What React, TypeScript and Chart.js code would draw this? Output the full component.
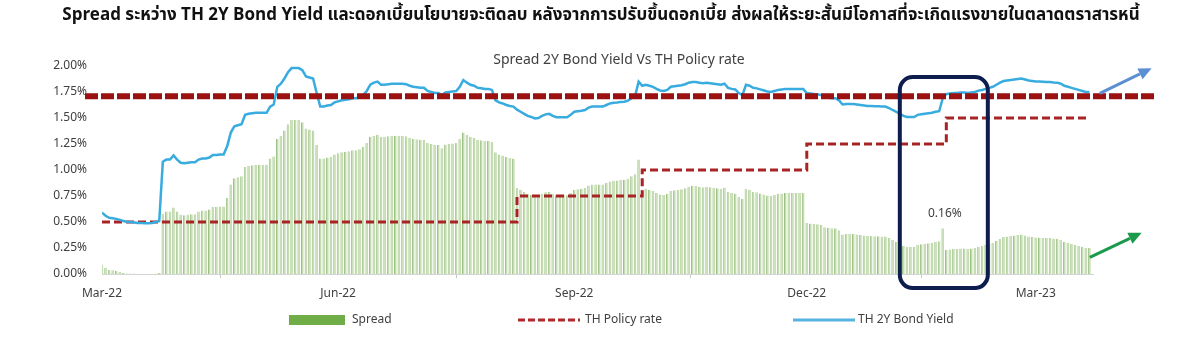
import React, { useEffect, useRef } from 'react';
import { Chart, registerables } from 'chart.js';

Chart.register(...registerables);

const headingText =
  'Spread ระหว่าง TH 2Y Bond Yield และดอกเบี้ยนโยบายจะติดลบ หลังจากการปรับขึ้นดอกเบี้ย ส่งผลให้ระยะสั้นมีโอกาสที่จะเกิดแรงขายในตลาดตราสารหนี้';
const chartTitle = 'Spread 2Y Bond Yield Vs TH Policy rate';

// business-day index -> TH 2Y bond yield (%)
const bondYield: number[] = [
  0.59, 0.56, 0.54, 0.535,
  0.53, 0.52, 0.51, 0.50, 0.50,
  0.495, 0.49, 0.49, 0.488, 0.487,
  0.49, 0.50, 0.51, 1.08, 1.10,
  1.10, 1.14, 1.10, 1.07, 1.065,
  1.07, 1.075, 1.075, 1.10, 1.11,
  1.11, 1.12, 1.145, 1.145, 1.15,
  1.15, 1.23, 1.36, 1.42, 1.43,
  1.44, 1.53, 1.54, 1.545, 1.55,
  1.55, 1.55, 1.55, 1.61, 1.63,
  1.80, 1.83, 1.88, 1.94, 1.98,
  1.98, 1.98, 1.96, 1.90, 1.89,
  1.88, 1.74, 1.61, 1.61, 1.62,
  1.625, 1.65, 1.66, 1.67, 1.675,
  1.68, 1.69, 1.69, 1.70, 1.72,
  1.76, 1.82, 1.84, 1.85, 1.82,
  1.82, 1.825, 1.83, 1.83, 1.83,
  1.83, 1.825, 1.81, 1.80, 1.795,
  1.79, 1.79, 1.76, 1.75, 1.74,
  1.74, 1.72, 1.745, 1.75, 1.755,
  1.76, 1.80, 1.865, 1.84, 1.82,
  1.81, 1.79, 1.785, 1.78, 1.78,
  1.77, 1.67, 1.65, 1.64, 1.625,
  1.615, 1.61, 1.58, 1.56, 1.54,
  1.52, 1.51, 1.495, 1.50, 1.52,
  1.535, 1.54, 1.52, 1.507, 1.507,
  1.507, 1.507, 1.53, 1.56, 1.565,
  1.57, 1.577, 1.60, 1.61, 1.61,
  1.61, 1.61, 1.625, 1.64, 1.647,
  1.65, 1.655, 1.657, 1.667, 1.69,
  1.71, 1.85, 1.81, 1.82, 1.81,
  1.80, 1.78, 1.765, 1.76, 1.77,
  1.80, 1.805, 1.81, 1.815, 1.825,
  1.84, 1.845, 1.845, 1.84, 1.835,
  1.84, 1.835, 1.83, 1.825, 1.82,
  1.83, 1.79, 1.78, 1.775, 1.74,
  1.72, 1.82, 1.81, 1.79, 1.785,
  1.775, 1.765, 1.755, 1.75, 1.76,
  1.77, 1.775, 1.78, 1.78, 1.78,
  1.78, 1.78, 1.78, 1.74, 1.735,
  1.73, 1.728, 1.72, 1.70, 1.695,
  1.69, 1.69, 1.67, 1.63, 1.635,
  1.635, 1.635, 1.63, 1.625, 1.62,
  1.615, 1.615, 1.613, 1.612, 1.61,
  1.61, 1.595, 1.577, 1.56, 1.54,
  1.52, 1.51, 1.51, 1.51, 1.53,
  1.535, 1.54, 1.545, 1.55, 1.56,
  1.565, 1.69, 1.73, 1.735, 1.74,
  1.74, 1.745, 1.745, 1.74, 1.745,
  1.75, 1.763, 1.77, 1.78, 1.79,
  1.80, 1.82, 1.84, 1.855, 1.86,
  1.865, 1.87, 1.875, 1.88, 1.87,
  1.86, 1.855, 1.85, 1.85, 1.848,
  1.845, 1.845, 1.842, 1.84, 1.83,
  1.81, 1.80, 1.79, 1.78, 1.77,
  1.76, 1.75, 1.75,
];

// business-day index -> spread (%)
const spreadValues: number[] = [
  0.09, 0.06, 0.04, 0.035,
  0.03, 0.02, 0.01, 0.005, 0.005,
  0.004, 0.003, 0.003, 0.002, 0.002,
  0.003, 0.004, 0.01, 0.58, 0.60,
  0.60, 0.64, 0.60, 0.57, 0.565,
  0.57, 0.575, 0.575, 0.60, 0.61,
  0.61, 0.62, 0.645, 0.645, 0.65,
  0.65, 0.73, 0.86, 0.92, 0.93,
  0.94, 1.03, 1.04, 1.045, 1.05,
  1.05, 1.05, 1.05, 1.11, 1.13,
  1.30, 1.33, 1.38, 1.44, 1.48,
  1.48, 1.48, 1.46, 1.40, 1.39,
  1.38, 1.24, 1.11, 1.11, 1.12,
  1.125, 1.15, 1.16, 1.17, 1.175,
  1.18, 1.19, 1.19, 1.20, 1.22,
  1.26, 1.32, 1.33, 1.34, 1.32,
  1.32, 1.325, 1.33, 1.33, 1.33,
  1.33, 1.325, 1.31, 1.30, 1.295,
  1.29, 1.29, 1.26, 1.25, 1.24,
  1.24, 1.21, 1.245, 1.25, 1.255,
  1.26, 1.30, 1.36, 1.34, 1.32,
  1.31, 1.29, 1.285, 1.28, 1.28,
  1.27, 1.17, 1.15, 1.14, 1.125,
  1.115, 1.11, 0.83, 0.81, 0.79,
  0.77, 0.76, 0.745, 0.75, 0.77,
  0.785, 0.79, 0.77, 0.757, 0.757,
  0.757, 0.757, 0.78, 0.81, 0.815,
  0.82, 0.827, 0.85, 0.86, 0.86,
  0.86, 0.86, 0.875, 0.89, 0.897,
  0.90, 0.905, 0.907, 0.917, 0.94,
  0.96, 1.10, 0.81, 0.82, 0.81,
  0.80, 0.78, 0.765, 0.76, 0.77,
  0.80, 0.805, 0.81, 0.815, 0.825,
  0.84, 0.845, 0.845, 0.84, 0.835,
  0.84, 0.835, 0.83, 0.825, 0.82,
  0.83, 0.79, 0.78, 0.775, 0.74,
  0.72, 0.82, 0.81, 0.79, 0.785,
  0.775, 0.765, 0.755, 0.75, 0.76,
  0.77, 0.775, 0.78, 0.78, 0.78,
  0.78, 0.78, 0.78, 0.49, 0.485,
  0.48, 0.478, 0.47, 0.45, 0.445,
  0.44, 0.44, 0.42, 0.38, 0.385,
  0.385, 0.385, 0.38, 0.375, 0.37,
  0.365, 0.365, 0.363, 0.362, 0.36,
  0.36, 0.345, 0.327, 0.31, 0.29,
  0.27, 0.26, 0.26, 0.26, 0.28,
  0.285, 0.29, 0.295, 0.30, 0.31,
  0.315, 0.44, 0.23, 0.235, 0.24,
  0.24, 0.245, 0.245, 0.24, 0.245,
  0.25, 0.263, 0.27, 0.28, 0.29,
  0.30, 0.32, 0.34, 0.355, 0.36,
  0.365, 0.37, 0.375, 0.38, 0.37,
  0.36, 0.355, 0.35, 0.35, 0.348,
  0.345, 0.345, 0.342, 0.34, 0.33,
  0.31, 0.30, 0.29, 0.28, 0.27,
  0.26, 0.25, 0.25,
];

// policy rate change points (business-day index) and levels
const policyIndex: number[] = [0, 116, 151, 197, 236, 276];
const policyRate: number[] = [0.5, 0.75, 1.0, 1.25, 1.5, 1.5];

const xTickIndex: number[] = [0, 66, 132, 197, 261];
const xTickLabels: string[] = ['Mar-22', 'Jun-22', 'Sep-22', 'Dec-22', 'Mar-23'];
const xMax = 277;
const yMax = 2.0;
const yStep = 0.25;

const seriesLabels = ['Spread', 'TH Policy rate', 'TH 2Y Bond Yield'];

// annotations (data units: index / percent)
const refLine = { value: 1.71, from: -4.75, to: 294.9 };
const blueArrow = { x1: 278.9, y1: 1.737, x2: 293.4, y2: 1.978 };
const greenArrow = { x1: 276.1, y1: 0.16, x2: 290.6, y2: 0.397 };
const focusBox = { xMin: 223.0, xMax: 247.6, yMin: -0.135, yMax: 1.894 };
const noteLabel = { text: '0.16%', x: 235.6, y: 0.577 };

const FONT = '"Noto Sans", "DejaVu Sans", sans-serif';
const THAI_FONT = '"Noto Sans Thai", "Tlwg Typist", Loma, Garuda, "Noto Sans", "DejaVu Sans", sans-serif';

function drawArrow(ctx: CanvasRenderingContext2D, x1: number, y1: number, x2: number, y2: number, color: string) {
  const ang = Math.atan2(y2 - y1, x2 - x1);
  const head = 13;
  const hw = 6;
  const bx = x2 - head * Math.cos(ang);
  const by = y2 - head * Math.sin(ang);
  ctx.save();
  ctx.setLineDash([]);
  ctx.strokeStyle = color;
  ctx.fillStyle = color;
  ctx.lineWidth = 3;
  ctx.beginPath();
  ctx.moveTo(x1, y1);
  ctx.lineTo(bx, by);
  ctx.stroke();
  ctx.beginPath();
  ctx.moveTo(x2, y2);
  ctx.lineTo(bx + hw * Math.sin(ang), by - hw * Math.cos(ang));
  ctx.lineTo(bx - hw * Math.sin(ang), by + hw * Math.cos(ang));
  ctx.closePath();
  ctx.fill();
  ctx.restore();
}

const overlayPlugin = {
  id: 'overlay',
  afterDatasetsDraw(chart: any) {
    const { ctx } = chart;
    const x = chart.scales.x;
    const y = chart.scales.y;
    ctx.save();

    // thick dashed reference line
    ctx.setLineDash([13, 3]);
    ctx.lineWidth = 6;
    ctx.strokeStyle = '#9b1111';
    ctx.beginPath();
    ctx.moveTo(x.getPixelForValue(refLine.from), y.getPixelForValue(refLine.value));
    ctx.lineTo(x.getPixelForValue(refLine.to), y.getPixelForValue(refLine.value));
    ctx.stroke();
    ctx.setLineDash([]);

    // arrows
    drawArrow(ctx, x.getPixelForValue(blueArrow.x1), y.getPixelForValue(blueArrow.y1),
      x.getPixelForValue(blueArrow.x2), y.getPixelForValue(blueArrow.y2), '#5b8fd2');
    drawArrow(ctx, x.getPixelForValue(greenArrow.x1), y.getPixelForValue(greenArrow.y1),
      x.getPixelForValue(greenArrow.x2), y.getPixelForValue(greenArrow.y2), '#1c9a4c');

    // focus box
    const bx1 = x.getPixelForValue(focusBox.xMin);
    const bx2 = x.getPixelForValue(focusBox.xMax);
    const by1 = y.getPixelForValue(focusBox.yMax);
    const by2 = y.getPixelForValue(focusBox.yMin);
    ctx.lineWidth = 4;
    ctx.strokeStyle = '#0d1d4d';
    ctx.beginPath();
    ctx.roundRect(bx1, by1, bx2 - bx1, by2 - by1, 13);
    ctx.stroke();

    // note label
    ctx.fillStyle = '#404040';
    ctx.font = `12px ${FONT}`;
    ctx.textAlign = 'center';
    ctx.textBaseline = 'middle';
    ctx.fillText(noteLabel.text, x.getPixelForValue(noteLabel.x), y.getPixelForValue(noteLabel.y));

    ctx.restore();
  },
  afterDraw(chart: any) {
    const { ctx } = chart;
    ctx.save();
    // heading
    ctx.fillStyle = '#111';
    ctx.font = `bold 17px ${THAI_FONT}`;
    ctx.textAlign = 'center';
    ctx.textBaseline = 'middle';
    ctx.fillText(headingText, 601, 17);

    // chart title
    ctx.fillStyle = '#404040';
    ctx.font = `14px ${FONT}`;
    ctx.fillText(chartTitle, 619, 60);

    // legend
    const ly = 320;
    ctx.font = `12px ${FONT}`;
    ctx.textAlign = 'left';
    ctx.fillStyle = '#70ad47';
    ctx.fillRect(289, ly - 5, 56, 10);
    ctx.fillStyle = '#404040';
    ctx.fillText(chart.data.datasets[2].label, 352, ly);

    ctx.strokeStyle = '#b0282a';
    ctx.lineWidth = 3;
    ctx.setLineDash([7, 3]);
    ctx.beginPath();
    ctx.moveTo(518, ly);
    ctx.lineTo(580, ly);
    ctx.stroke();
    ctx.setLineDash([]);
    ctx.fillText(chart.data.datasets[1].label, 585, ly);

    ctx.strokeStyle = '#56b2e0';
    ctx.lineWidth = 3;
    ctx.beginPath();
    ctx.moveTo(793, ly);
    ctx.lineTo(855, ly);
    ctx.stroke();
    ctx.fillText(chart.data.datasets[0].label, 858, ly);
    ctx.restore();
  },
};

export default function App() {
  const canvasRef = useRef<HTMLCanvasElement | null>(null);

  useEffect(() => {
    if (!canvasRef.current) return;
    const yieldData = bondYield.map((v, i) => ({ x: i, y: v }));
    const spreadData = spreadValues.map((v, i) => ({ x: i, y: v }));
    const policyData = policyIndex.map((ix, i) => ({ x: ix, y: policyRate[i] }));

    const chart = new Chart(canvasRef.current, {
      type: 'bar',
      data: {
        datasets: [
          {
            type: 'line',
            label: seriesLabels[2],
            data: yieldData,
            borderColor: '#38abdf',
            borderWidth: 2.5,
            pointRadius: 0,
            tension: 0,
            order: 0,
          } as any,
          {
            type: 'line',
            label: seriesLabels[1],
            data: policyData,
            borderColor: '#a82424',
            borderWidth: 3,
            borderDash: [8, 4],
            pointRadius: 0,
            stepped: 'before',
            order: 1,
          } as any,
          {
            type: 'bar',
            label: seriesLabels[0],
            data: spreadData,
            backgroundColor: '#c4ddb1',
            borderColor: '#9cc083',
            borderWidth: { left: 1, right: 0, top: 0, bottom: 0 },
            borderSkipped: false,
            barPercentage: 0.75,
            categoryPercentage: 1,
            order: 2,
          } as any,
        ],
      },
      options: {
        animation: false,
        responsive: true,
        maintainAspectRatio: false,
        layout: { padding: { top: 66, right: 107, bottom: 44, left: 0 } },
        plugins: {
          legend: { display: false },
          tooltip: { enabled: false },
          title: { display: false },
        },
        scales: {
          x: {
            type: 'linear',
            min: 0,
            max: xMax,
            offset: false,
            afterFit: (s: any) => { s.height = 30; },
            afterBuildTicks: (s: any) => { s.ticks = xTickIndex.map((v) => ({ value: v })); },
            ticks: {
              autoSkip: false,
              maxRotation: 0,
              padding: 8,
              color: '#404040',
              font: { family: FONT, size: 12 },
              callback: (v: any) => {
                const k = xTickIndex.indexOf(Number(v));
                return k >= 0 ? xTickLabels[k] : '';
              },
            },
            grid: { display: true, drawOnChartArea: false, drawTicks: true, tickLength: 4, color: '#c8c8c8' },
            border: { display: true, color: '#d4d4d4', width: 1 },
          },
          y: {
            type: 'linear',
            min: 0,
            max: yMax,
            afterFit: (s: any) => { s.width = 102; },
            ticks: {
              stepSize: yStep,
              padding: 15,
              color: '#404040',
              font: { family: FONT, size: 12 },
              callback: (v: any) => Number(v).toFixed(2) + '%',
            },
            grid: { display: false, drawTicks: false },
            border: { display: false },
          },
        },
      },
      plugins: [overlayPlugin],
    });
    return () => chart.destroy();
  }, []);

  return (
    <div style={{ position: 'fixed', left: 0, top: 0, width: 1200, height: 348, background: '#fff' }}>
      <canvas ref={canvasRef} />
    </div>
  );
}
